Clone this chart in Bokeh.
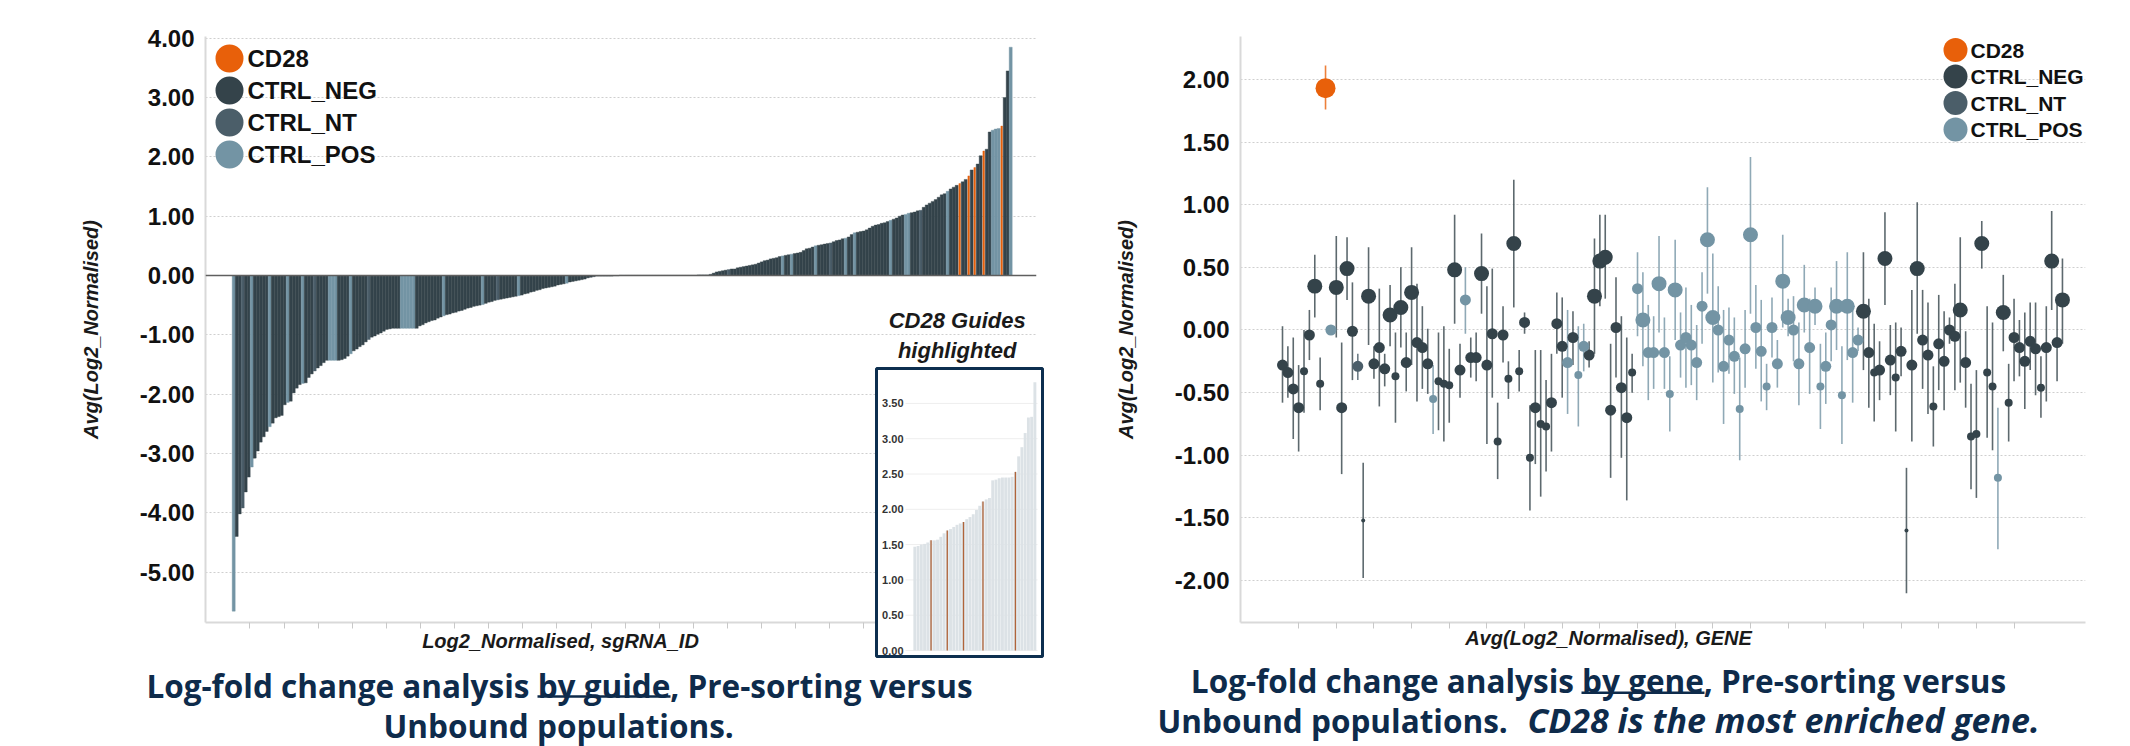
from bokeh.plotting import figure
from bokeh.models import (Range1d, FixedTicker, NumeralTickFormatter, Span,
                          ColumnDataSource, CustomJSTickFormatter)
from bokeh.layouts import row
from bokeh.embed import file_html
from bokeh.resources import INLINE
from bokeh.core.properties import value

# ---------------------------------------------------------------- data
categories = ["CD28", "CTRL_NEG", "CTRL_NT", "CTRL_POS"]

# left chart: log2 fold change per sgRNA (sorted)
guide_lfc = [
    -5.66, -4.40, -4.02, -3.92, -3.65, -3.40, -3.23, -3.08, -2.96, -2.81,
    -2.72, -2.63, -2.55, -2.49, -2.40, -2.38, -2.36, -2.18, -2.14, -2.12,
    -1.98, -1.90, -1.84, -1.82, -1.81, -1.72, -1.66, -1.61, -1.56, -1.52,
    -1.47, -1.43, -1.43, -1.43, -1.43, -1.43, -1.42, -1.40, -1.36, -1.32,
    -1.27, -1.24, -1.20, -1.17, -1.12, -1.08, -1.04, -1.02, -0.99, -0.97,
    -0.94, -0.91, -0.90, -0.89, -0.89, -0.89, -0.89, -0.89, -0.89, -0.89,
    -0.89, -0.89, -0.85, -0.83, -0.80, -0.78, -0.76, -0.75, -0.72, -0.70,
    -0.68, -0.66, -0.65, -0.63, -0.62, -0.60, -0.59, -0.57, -0.55, -0.54,
    -0.52, -0.51, -0.50, -0.49, -0.47, -0.45, -0.44, -0.42, -0.41, -0.40,
    -0.39, -0.38, -0.37, -0.36, -0.35, -0.34, -0.33, -0.31, -0.30, -0.28,
    -0.27, -0.25, -0.24, -0.22, -0.21, -0.20, -0.19, -0.18, -0.16, -0.15,
    -0.14, -0.13, -0.11, -0.10, -0.09, -0.08, -0.07, -0.06, -0.04, -0.03,
    -0.02, -0.01, -0.01, -0.01, -0.01, -0.01, -0.01, -0.005, -0.005, 0.005,
    0.005, 0.005, 0.005, 0.005, 0.005, 0.005, 0.005, 0.005, 0.005, 0.005,
    0.005, 0.005, 0.005, 0.005, 0.005, 0.005, 0.005, 0.005, 0.005, 0.005,
    0.005, 0.005, 0.005, 0.005, 0.005, 0.01, 0.01, 0.01, 0.01,
    0.02, 0.04, 0.06, 0.07, 0.08, 0.09, 0.10, 0.11, 0.11, 0.13, 0.14,
    0.15, 0.16, 0.17, 0.18, 0.19, 0.21, 0.23, 0.25, 0.26, 0.28,
    0.29, 0.30, 0.32, 0.33, 0.34, 0.35, 0.36, 0.37, 0.38, 0.39,
    0.42, 0.45, 0.46, 0.48, 0.50, 0.51, 0.52, 0.53, 0.54, 0.55,
    0.57, 0.59, 0.60, 0.62, 0.63, 0.65, 0.69, 0.72, 0.73, 0.74,
    0.75, 0.77, 0.80, 0.83, 0.85, 0.86, 0.88, 0.89, 0.91, 0.93,
    0.95, 0.97, 1.00, 1.02, 1.03, 1.05, 1.06, 1.07, 1.09, 1.10,
    1.15, 1.19, 1.22, 1.25, 1.28, 1.32, 1.36, 1.38, 1.42, 1.46,
    1.49, 1.52, 1.55, 1.58, 1.62, 1.68, 1.78, 1.82, 1.88, 2.02,
    2.10, 2.13, 2.42, 2.45, 2.47, 2.48, 2.52, 3.00, 3.45, 3.85,
]
guide_pos_idx = [0, 6, 12, 18, 23, 32, 33, 34, 39, 56, 57, 58, 59, 60, 70, 83, 95, 111,
                 183, 186, 194, 204, 207, 219, 224, 225, 238, 253, 254, 255, 259]
guide_nt_idx = [3, 27, 45, 88, 130, 165, 199, 229]
guide_cd28_idx = [242, 245, 247, 250, 256]

# inset: top-ranked guides, CD28 guides highlighted
inset_lfc = [1.47, 1.48, 1.50, 1.51, 1.53, 1.56, 1.56, 1.57, 1.61, 1.66,
             1.70, 1.72, 1.75, 1.78, 1.80, 1.82, 1.86, 1.89, 1.93, 1.99,
             2.05, 2.11, 2.14, 2.16, 2.41, 2.42, 2.44, 2.45, 2.45, 2.45,
             2.46, 2.53, 2.75, 2.88, 3.08, 3.30, 3.31, 3.80]
inset_cd28_idx = [5, 10, 15, 21, 31]
inset_ticks = [0.0, 0.5, 1.0, 1.5, 2.0, 2.5, 3.0, 3.5]

# right chart: per-gene average with range, category code and mark weight
gene_code = ("NNNNNNNNCP" "NNNNTNNNNN" "NNNNNNNNPN" "NNNNPNNNNN" "NNNNNNNNNN"
             "NNNPNPPNNN" "NNNNNNPPPP" "PPPPPPPPPP" "PPPPPPPPPP" "PPPPPPPPPP"
             "PPPPPPPPNN" "NNNNNNNNNN" "NNNNNNNNNN" "NNNPNNNNNN" "NNNNNN")
code_names = {"C": "CD28", "N": "CTRL_NEG", "T": "CTRL_NT", "P": "CTRL_POS"}
gene_mean = [
    -0.28, -0.34, -0.47, -0.62, -0.33, -0.04, 0.35, -0.43, 1.93, 0.00,
    0.34, -0.62, 0.49, -0.01, -0.29, -1.52, 0.27, -0.27, -0.14, -0.31,
    0.12, -0.37, 0.18, -0.26, 0.30, -0.10, -0.14, -0.27, -0.55, -0.41,
    -0.43, -0.44, 0.48, -0.32, 0.24, -0.22, -0.22, 0.45, -0.28, -0.03,
    -0.89, -0.04, -0.39, 0.69, -0.33, 0.06, -1.02, -0.62, -0.75, -0.77,
    -0.58, 0.05, -0.13, -0.26, -0.06, -0.36, -0.13, -0.20, 0.27, 0.55,
    0.58, -0.64, 0.02, -0.46, -0.70, -0.34, 0.33, 0.08, -0.18, -0.18,
    0.37, -0.18, -0.51, 0.32, -0.12, -0.06, -0.12, -0.26, 0.19, 0.72,
    0.10, 0.00, -0.29, -0.08, -0.21, -0.63, -0.15, 0.76, 0.02, -0.17,
    -0.45, 0.02, -0.27, 0.39, 0.10, 0.00, -0.27, 0.20, -0.14, 0.19,
    -0.45, -0.29, 0.04, 0.19, -0.52, 0.19, -0.18, -0.08, 0.15, -0.18,
    -0.34, -0.32, 0.57, -0.24, -0.38, -0.17, -1.60, -0.28, 0.49, -0.08,
    -0.20, -0.61, -0.11, -0.25, 0.00, -0.05, 0.16, -0.26, -0.85, -0.83,
    0.69, -0.34, -0.45, -1.18, 0.14, -0.58, -0.06, -0.14, -0.25, -0.09,
    -0.15, -0.46, -0.14, 0.55, -0.10, 0.24,
]
gene_low = [
    -0.58, -0.54, -0.87, -0.97, -0.66, -0.24, 0.10, -0.64, 1.76, -0.03,
    -0.06, -1.15, 0.24, -0.40, -0.40, -1.98, -0.12, -0.39, -0.61, -0.45,
    -0.13, -0.74, -0.14, -0.49, -0.28, -0.57, -0.47, -0.51, -0.83, -0.80,
    -0.89, -0.74, 0.05, -0.54, -0.03, -0.38, -0.41, 0.13, -0.91, -0.54,
    -1.19, -0.26, -0.55, 0.18, -0.49, -0.03, -1.44, -1.07, -1.33, -1.13,
    -0.97, -0.19, -0.54, -0.67, -0.28, -0.77, -0.33, -0.30, -0.19, 0.19,
    0.25, -1.18, -0.38, -1.02, -1.36, -0.50, -0.05, -0.29, -0.56, -0.47,
    -0.02, -0.47, -0.81, -0.08, -0.38, -0.46, -0.44, -0.56, -0.11, 0.29,
    -0.42, -0.34, -0.75, -0.35, -0.51, -1.04, -0.46, 0.13, -0.31, -0.57,
    -0.64, -0.22, -0.46, 0.02, -0.05, -0.25, -0.60, -0.02, -0.51, 0.04,
    -0.79, -0.59, -0.25, -0.16, -0.91, -0.24, -0.58, -0.17, -0.32, -0.62,
    -0.73, -0.56, 0.20, -0.52, -0.81, -0.37, -2.10, -0.89, -0.03, -0.47,
    -0.67, -0.93, -0.48, -0.64, -0.11, -0.48, -0.42, -0.62, -1.27, -1.34,
    0.49, -0.86, -0.96, -1.75, -0.17, -0.89, -0.41, -0.37, -0.63, -0.32,
    -0.52, -0.70, -0.57, 0.16, -0.41, -0.11,
]
gene_high = [
    0.03, -0.13, -0.06, -0.28, 0.00, 0.16, 0.60, -0.22, 2.11, 0.02,
    0.75, -0.10, 0.74, 0.38, -0.19, -1.06, 0.66, -0.13, 0.33, -0.19,
    0.36, -0.02, 0.50, -0.02, 0.66, 0.37, 0.19, 0.01, -0.28, -0.02,
    0.03, -0.15, 0.92, -0.11, 0.50, -0.06, -0.02, 0.77, 0.35, 0.49,
    -0.58, 0.19, -0.25, 1.20, -0.16, 0.14, -0.60, -0.16, -0.16, -0.40,
    -0.19, 0.30, 0.26, 0.16, 0.15, 0.03, 0.05, -0.09, 0.73, 0.92,
    0.92, -0.11, 0.42, 0.11, -0.06, -0.19, 0.62, 0.46, 0.20, 0.11,
    0.75, 0.10, -0.21, 0.72, 0.14, 0.34, 0.20, 0.04, 0.46, 1.14,
    0.61, 0.35, 0.16, 0.18, 0.10, -0.22, 0.16, 1.38, 0.36, 0.24,
    -0.27, 0.26, -0.08, 0.76, 0.25, 0.27, 0.06, 0.52, 0.25, 0.34,
    -0.11, -0.02, 0.34, 0.55, -0.13, 0.62, 0.16, 0.02, 0.62, 0.25,
    0.05, -0.09, 0.94, 0.04, 0.06, 0.02, -1.10, 0.32, 1.02, 0.32,
    0.22, -0.29, 0.28, 0.15, 0.10, 0.37, 0.74, -0.01, -0.43, -0.32,
    0.87, 0.19, 0.06, -0.62, 0.44, -0.27, 0.25, 0.08, 0.14, 0.22,
    0.22, -0.21, 0.19, 0.95, 0.22, 0.57,
]
gene_weight = [
    2, 2, 2, 2, 1, 2, 3, 1, 4, 2,
    3, 2, 3, 2, 2, 0, 3, 2, 2, 2,
    3, 1, 3, 2, 3, 2, 2, 2, 1, 1,
    1, 1, 3, 2, 2, 2, 2, 3, 2, 2,
    1, 2, 1, 3, 1, 2, 1, 2, 1, 1,
    2, 2, 2, 2, 2, 1, 2, 2, 3, 3,
    3, 2, 2, 2, 2, 1, 2, 3, 2, 2,
    3, 2, 1, 3, 2, 2, 2, 2, 2, 3,
    3, 2, 2, 2, 2, 1, 2, 3, 2, 2,
    1, 2, 2, 3, 3, 2, 2, 3, 2, 3,
    1, 2, 2, 3, 1, 3, 2, 2, 3, 2,
    1, 2, 3, 2, 1, 2, 0, 2, 3, 2,
    2, 1, 2, 2, 2, 2, 3, 2, 1, 1,
    3, 1, 1, 1, 3, 1, 2, 2, 2, 2,
    2, 1, 2, 3, 2, 3,
]

left_yticks = [-5, -4, -3, -2, -1, 0, 1, 2, 3, 4]
right_yticks = [-2.0, -1.5, -1.0, -0.5, 0.0, 0.5, 1.0, 1.5, 2.0]

# ---------------------------------------------------------------- style
COLORS = {"CD28": "#e8600a", "CTRL_NEG": "#34434a", "CTRL_NT": "#4b5e69", "CTRL_POS": "#7394a4"}
SIZE_PX = {4: 20, 3: 15, 2: 11, 1: 8, 0: 4}
NAVY = "#0e2b4b"
AX_FONT = "Liberation Sans"
CAP_FONT = "Open Sans"
CAP_SIZE = "31.5px"
GRID = "#cfcfcf"
AXLINE = "#d9d9d9"
OV = dict(x_range_name="px", y_range_name="py", level="overlay")   # page-pixel layer
CAP1_Y, CAP2_Y = 685, 725                                          # caption baselines


def style_axes(p, yticks, xticks):
    p.xgrid.visible = False
    p.ygrid.grid_line_color = GRID
    p.ygrid.grid_line_dash = "2 2"
    p.yaxis.ticker = FixedTicker(ticks=yticks)
    p.yaxis.formatter = NumeralTickFormatter(format="0.00")
    p.yaxis.major_label_text_font = AX_FONT
    p.yaxis.major_label_text_font_size = "24px"
    p.yaxis.major_label_text_font_style = "bold"
    p.yaxis.major_label_text_color = "#111111"
    p.yaxis.major_tick_line_color = None
    p.yaxis.major_tick_out = 0
    p.yaxis.minor_tick_line_color = None
    p.yaxis.major_label_standoff = 11
    p.yaxis.axis_line_color = AXLINE
    p.yaxis.axis_line_width = 2
    p.yaxis.axis_label = "Avg(Log2_Normalised)"
    p.yaxis.axis_label_text_font = AX_FONT
    p.yaxis.axis_label_text_font_size = "20px"
    p.yaxis.axis_label_text_font_style = "bold italic"
    p.yaxis.axis_label_text_color = "#1a1a1a"
    p.yaxis.axis_label_standoff = 35
    p.xaxis.ticker = FixedTicker(ticks=xticks)
    p.xaxis.formatter = CustomJSTickFormatter(code="return ''")
    p.xaxis.major_tick_out = 6
    p.xaxis.major_tick_in = 0
    p.xaxis.major_tick_line_color = "#c8c8c8"
    p.xaxis.minor_tick_line_color = None
    p.xaxis.axis_line_color = AXLINE
    p.xaxis.axis_line_width = 2


def page_text(p, x, y, text, size, style, color, font=AX_FONT, align="left",
              baseline="middle"):
    p.text(x=[x], y=[y], text=[text], text_font=value(font), text_font_size=size,
           text_font_style=style, text_color=color, text_align=align,
           text_baseline=baseline, **OV)


def caption(p, x, y, text, style="bold", align="left", size=CAP_SIZE):
    page_text(p, x, y, text, size, style, NAVY, font=CAP_FONT, align=align,
              baseline="alphabetic")


def underline(p, x0, x1, y):
    p.segment(x0=[x0], y0=[y], x1=[x1], y1=[y], line_color=NAVY, line_width=2.5, **OV)


def legend(p, cx, cy0, pitch, dia, tx, size):
    for k, c in enumerate(categories):
        p.scatter(x=[cx], y=[cy0 + k * pitch], size=dia, marker="circle",
                  fill_color=COLORS[c], line_color=None, **OV)
        page_text(p, tx, cy0 + k * pitch, c, size, "bold", "#111111")


# ================================================================ left chart
LX0, LX1, LY0, LY1 = 205, 1036, 36, 622          # frame edges (page px)
BAR0, BAR_PX = 233.2, 3.0                          # first bar centre, bar pitch
ZERO_PX, UNIT_PX = 275.0, 59.3


def lx(px):
    return (px - BAR0) / BAR_PX


def ly(py):
    return (ZERO_PX - py) / UNIT_PX


p1 = figure(width=1065, height=746, x_range=Range1d(lx(LX0), lx(LX1)),
            y_range=Range1d(ly(LY1), ly(LY0)),
            min_border_left=LX0, min_border_right=1065 - LX1,
            min_border_top=LY0, min_border_bottom=746 - LY1,
            output_backend="svg", toolbar_location=None, outline_line_color=None,
            background_fill_color="white", border_fill_color="white")

# inset mapping (zoom on the top-ranked guides)
IX0, IPX = 912.7, 3.245
IZERO, IUNIT = 650.0, 70.6


def ix(px):
    return (px - IX0) / IPX - 0.5


def iy(py):
    return (IZERO - py) / IUNIT


p1.extra_x_ranges = {"ix": Range1d(ix(LX0), ix(LX1)), "px": Range1d(LX0, LX1)}
p1.extra_y_ranges = {"iy": Range1d(iy(LY1), iy(LY0)), "py": Range1d(LY1, LY0)}

guide_cat = ["CTRL_NEG"] * len(guide_lfc)
for i in guide_pos_idx:
    guide_cat[i] = "CTRL_POS"
for i in guide_nt_idx:
    guide_cat[i] = "CTRL_NT"
for i in guide_cd28_idx:
    guide_cat[i] = "CD28"

gsrc = ColumnDataSource(dict(
    x=list(range(len(guide_lfc))), top=guide_lfc, cat=guide_cat,
    color=[COLORS[c] for c in guide_cat],
    w=[0.55 if c == "CD28" else 1.0 for c in guide_cat]))
p1.vbar(x="x", top="top", bottom=0, width="w", source=gsrc,
        fill_color="color", line_color="color", line_width=0.4)
p1.add_layout(Span(location=0, dimension="width", line_color="#5f5f5f", line_width=1.5))

style_axes(p1, left_yticks, [5.4 + 11.37 * k for k in range(24)])
legend(p1, 229, 58, 32, 28, 247, "24px")
page_text(p1, 560, 640, "Log2_Normalised, sgRNA_ID", "20px", "bold italic", "#1a1a1a",
          align="center")

# ---- inset (drawn as stroked segments so that nothing is cut at the frame edge)
ikw = dict(x_range_name="ix", y_range_name="iy", level="overlay")
n_in = len(inset_lfc)
box_l, box_r, box_t, box_b = 876, 1042, 368, 656
p1.segment(x0=[ix((box_l + box_r) / 2)], y0=[iy(box_t)], x1=[ix((box_l + box_r) / 2)],
           y1=[iy(box_b)], line_color="white", line_width=box_r - box_l, **ikw)
p1.segment(x0=[ix(905)] * len(inset_ticks), y0=inset_ticks,
           x1=[ix(1037)] * len(inset_ticks), y1=inset_ticks,
           line_color="#eeeeee", line_width=1, **ikw)
p1.segment(x0=list(range(n_in)), y0=[0] * n_in, x1=list(range(n_in)), y1=inset_lfc,
           line_color="#dce2e6", line_width=IPX - 0.35, **ikw)
p1.segment(x0=inset_cd28_idx, y0=[0] * len(inset_cd28_idx), x1=inset_cd28_idx,
           y1=[inset_lfc[i] for i in inset_cd28_idx],
           line_color="#b0643a", line_width=1.3, **ikw)
p1.text(x=[ix(903)] * len(inset_ticks), y=inset_ticks,
        text=[f"{t:.2f}" for t in inset_ticks], text_align="right", text_baseline="middle",
        text_font=value(AX_FONT), text_font_style="bold", text_font_size="11px",
        text_color="#333333", **ikw)
p1.quad(left=[ix(box_l)], right=[ix(box_r)], bottom=[iy(box_b)], top=[iy(box_t)],
        fill_color=None, line_color="#0d2f4f", line_width=3, **ikw)
page_text(p1, 956.7, 320, "CD28 Guides", "22px", "bold italic", "#1a1a1a", align="center")
page_text(p1, 956.7, 350, "highlighted", "22px", "bold italic", "#1a1a1a", align="center")

# ---- caption
caption(p1, 559, CAP1_Y, "Log-fold change analysis by guide, Pre-sorting versus",
        align="center")
underline(p1, 537, 670, CAP1_Y + 11)
caption(p1, 383, CAP2_Y, "Unbound populations.")

# ================================================================ right chart
RX0, RX1, RY0, RY1 = 1240, 2085, 33, 626
G0, G_PX = 1282.0, 5.379
RZERO, RUNIT = 330.0, 126.8
RW0 = 1065


def rx(px):
    return (px - G0) / G_PX


def ry(py):
    return (RZERO - py) / RUNIT


p2 = figure(width=1065, height=746, x_range=Range1d(rx(RX0), rx(RX1)),
            y_range=Range1d(ry(RY1), ry(RY0)),
            min_border_left=RX0 - RW0, min_border_right=2130 - RX1,
            min_border_top=RY0, min_border_bottom=746 - RY1,
            output_backend="svg", toolbar_location=None, outline_line_color=None,
            background_fill_color="white", border_fill_color="white")
p2.extra_x_ranges = {"px": Range1d(RX0, RX1)}
p2.extra_y_ranges = {"py": Range1d(RY1, RY0)}
style_axes(p2, right_yticks, [3 + 7 * k for k in range(20)])

gene_cat = [code_names[ch] for ch in gene_code]
srcs = {}
for c in categories:
    idx = [i for i, g in enumerate(gene_cat) if g == c]
    srcs[c] = ColumnDataSource(dict(
        x=idx, y=[gene_mean[i] for i in idx], lo=[gene_low[i] for i in idx],
        hi=[gene_high[i] for i in idx], size=[SIZE_PX[gene_weight[i]] for i in idx]))
for c in ["CTRL_NEG", "CTRL_NT", "CTRL_POS", "CD28"]:
    p2.segment(x0="x", y0="lo", x1="x", y1="hi", source=srcs[c],
               line_color=COLORS[c], line_width=1.6, line_alpha=0.8)
for c in ["CTRL_NEG", "CTRL_NT", "CTRL_POS", "CD28"]:
    p2.scatter(x="x", y="y", size="size", source=srcs[c], marker="circle",
               fill_color=COLORS[c], line_color=None)

legend(p2, 1955, 46.7, 26.8, 24, 1970, "21px")
page_text(p2, 1608, 642, "Avg(Log2_Normalised), GENE", "20px", "bold italic", "#1a1a1a",
          align="center")

caption(p2, 1598, CAP1_Y, "Log-fold change analysis by gene, Pre-sorting versus",
        align="center")
underline(p2, 1581, 1704, CAP1_Y + 12)
caption(p2, 1157, CAP2_Y, "Unbound populations.")
caption(p2, 1527, CAP2_Y, "CD28 is the most enriched gene.", style="bold italic", size="34px")

layout = row(p1, p2, spacing=0)
open("out.html", "w").write(file_html(layout, INLINE))
